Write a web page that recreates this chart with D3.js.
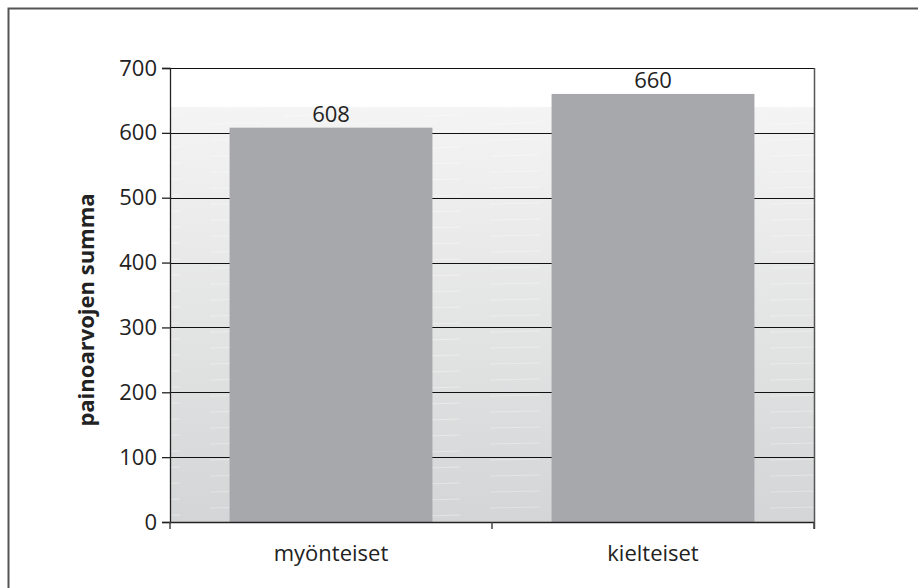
<!DOCTYPE html>
<html>
<head>
<meta charset="utf-8">
<script src="https://cdn.jsdelivr.net/npm/d3@7"></script>
<style>
  body { margin: 0; background: #fff; }
  svg text { font-family: "Open Sans", "Noto Sans", sans-serif; fill: #222; }
</style>
</head>
<body>
<svg id="chart" width="918" height="588"></svg>
<script>
// data
var categories = ['myönteiset', 'kielteiset'];
var values = [608, 660];
var yTicks = [0, 100, 200, 300, 400, 500, 600, 700];
var yTitle = 'painoarvojen summa';

var svg = d3.select('#chart');
var margin = {left: 170, right: 104, top: 68, bottom: 66};
var W = 918, H = 588;

// outer frame (only top and left edges are in view)
svg.append('path')
  .attr('d', 'M8.5,588 V8.5 H918')
  .attr('fill', 'none').attr('stroke', '#555').attr('stroke-width', 2);

var x = d3.scaleBand()
  .domain(categories)
  .range([margin.left, W - margin.right])
  .paddingInner(0.37).paddingOuter(0.185);

var y = d3.scaleLinear()
  .domain([0, 700])
  .range([H - margin.bottom, margin.top]);

// background gradient + faint streaks
var defs = svg.append('defs');
var grad = defs.append('linearGradient').attr('id', 'bg')
  .attr('x1', 0).attr('y1', 0).attr('x2', 0).attr('y2', 1);
grad.append('stop').attr('offset', '0%').attr('stop-color', '#f4f4f4');
grad.append('stop').attr('offset', '100%').attr('stop-color', '#d4d5d6');

var pat = defs.append('pattern').attr('id', 'streaks')
  .attr('patternUnits', 'userSpaceOnUse').attr('width', 140).attr('height', 16);
pat.append('line').attr('x1', 4).attr('x2', 40).attr('y1', 4).attr('y2', 3)
  .attr('stroke', '#fff').attr('stroke-opacity', 0.35).attr('stroke-width', 1);
pat.append('line').attr('x1', 70).attr('x2', 120).attr('y1', 12).attr('y2', 11)
  .attr('stroke', '#fff').attr('stroke-opacity', 0.3).attr('stroke-width', 1);

var plotW = W - margin.right - margin.left;
svg.append('rect')
  .attr('x', margin.left).attr('y', y(640))
  .attr('width', plotW).attr('height', y(0) - y(640))
  .attr('fill', 'url(#bg)');
svg.append('rect')
  .attr('x', margin.left).attr('y', y(640))
  .attr('width', plotW).attr('height', y(0) - y(640))
  .attr('fill', 'url(#streaks)');

// gridlines
svg.append('g').selectAll('line')
  .data(yTicks.filter(function(d) { return d > 0; }))
  .join('line')
  .attr('x1', margin.left).attr('x2', W - margin.right)
  .attr('y1', function(d) { return Math.round(y(d)) + 0.5; })
  .attr('y2', function(d) { return Math.round(y(d)) + 0.5; })
  .attr('stroke', '#111').attr('stroke-width', 1.2);

// right edge of plot
svg.append('line')
  .attr('x1', W - margin.right + 0.5).attr('x2', W - margin.right + 0.5)
  .attr('y1', y(700)).attr('y2', y(0) + 7)
  .attr('stroke', '#555').attr('stroke-width', 1.5);

// bars
svg.append('g').selectAll('rect')
  .data(values)
  .join('rect')
  .attr('x', function(d, i) { return x(categories[i]); })
  .attr('y', function(d) { return y(d); })
  .attr('width', x.bandwidth())
  .attr('height', function(d) { return y(0) - y(d); })
  .attr('fill', '#a7a8ab');

// value labels
svg.append('g').selectAll('text')
  .data(values)
  .join('text')
  .attr('x', function(d, i) { return x(categories[i]) + x.bandwidth() / 2; })
  .attr('y', function(d) { return y(d) - 6; })
  .attr('text-anchor', 'middle')
  .style('font-size', '22px')
  .text(function(d) { return d; });

// y axis
var yAxis = svg.append('g')
  .attr('transform', 'translate(' + margin.left + ',0)')
  .call(d3.axisLeft(y).tickValues(yTicks).tickSize(8).tickPadding(5));
yAxis.selectAll('text').style('font-size', '22px').attr('fill', '#222');
yAxis.selectAll('line, path').attr('stroke', '#222').attr('stroke-width', 1.3);

// x axis: ticks at band edges
var edges = [margin.left, x(categories[1]) - x.step() * x.paddingInner() / 2, W - margin.right];
var xAxis = svg.append('g');
xAxis.append('line')
  .attr('x1', margin.left).attr('x2', W - margin.right)
  .attr('y1', y(0) + 0.5).attr('y2', y(0) + 0.5)
  .attr('stroke', '#222').attr('stroke-width', 1.5);
xAxis.selectAll('line.tick')
  .data(edges)
  .join('line').attr('class', 'tick')
  .attr('x1', function(d) { return d; }).attr('x2', function(d) { return d; })
  .attr('y1', y(0)).attr('y2', y(0) + 7)
  .attr('stroke', '#444').attr('stroke-width', 1.5);
xAxis.selectAll('text')
  .data(categories)
  .join('text')
  .attr('x', function(d) { return x(d) + x.bandwidth() / 2; })
  .attr('y', 561)
  .attr('text-anchor', 'middle')
  .style('font-size', '22px')
  .text(function(d) { return d; });

// y title
svg.append('text')
  .attr('transform', 'translate(94,310) rotate(-90)')
  .attr('text-anchor', 'middle')
  .style('font-size', '22px').style('font-weight', 'bold')
  .attr('fill', '#111')
  .text(yTitle);
</script>
</body>
</html>
